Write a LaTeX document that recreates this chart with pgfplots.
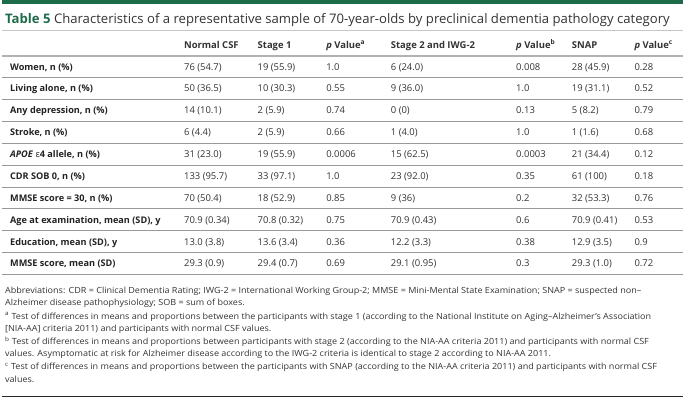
\documentclass[border=0pt]{standalone}
\usepackage{pgfplots}
\pgfplotsset{compat=1.18}
\usepackage{fontspec}
\setmainfont{Open Sans}
\usepackage{graphicx}
\definecolor{tgreen}{HTML}{1E6B4A}
\definecolor{txt}{HTML}{333333}
\definecolor{lab}{HTML}{222222}
\newcommand{\fnx}{1.07}
\tikzset{
  labn/.style={anchor=base west,inner sep=0pt,font=\fontsize{9.2bp}{10bp}\selectfont\bfseries,text=lab},
  valn/.style={anchor=base west,inner sep=0pt,font=\fontsize{9.5bp}{10bp}\selectfont,text=txt},
  fnn/.style={anchor=base west,inner sep=0pt,font=\fontsize{8.5bp}{9bp}\selectfont,text=txt}}
\newcommand{\trow}[9]{%
  \node[labn] at (axis cs:8,#1) {#2};
  \node[valn] at (axis cs:183,#1) {#3};
  \node[valn] at (axis cs:257,#1) {#4};
  \node[valn] at (axis cs:326,#1) {#5};
  \node[valn] at (axis cs:391,#1) {#6};
  \node[valn] at (axis cs:517,#1) {#7};
  \node[valn] at (axis cs:573,#1) {#8};
  \node[valn] at (axis cs:636,#1) {#9};
}
\newcommand{\fn}[2]{\node[fnn] at (axis cs:3,#1) {\scalebox{\fnx}[1]{#2}};}
\begin{document}
\begin{tikzpicture}
\begin{axis}[width=685bp,height=406bp,scale only axis,
  xmin=0,xmax=685,ymin=0,ymax=406,y dir=reverse,hide axis,clip=false]
\addplot[draw=none] coordinates {(0,0)(685,406)};
\addplot[tgreen,line width=4bp] coordinates {(0,2)(685,2)};
\addplot[color=gray!45,line width=0.8bp] coordinates {(0,31)(685,31)};
\addplot[color=gray!60,line width=2bp] coordinates {(0,56)(685,56)};
\pgfplotsinvokeforeach{78,100,122,144,166,188,210,232,254,276}{
  \addplot[color=gray!80,line width=0.8bp] coordinates {(0,#1)(685,#1)};
}
\addplot[color=black!85,line width=1.5bp] coordinates {(0,399)(685,399)};
\node[anchor=base west,inner sep=0pt,font=\fontsize{13.2bp}{14bp}\selectfont,text=txt] at (axis cs:3,23.5)
  {\textcolor{tgreen}{\bfseries Table 5}\ Characteristics of a representative sample of 70-year-olds by preclinical dementia pathology category};
\trow{48.5}{}{\bfseries Normal CSF}{\bfseries Stage 1}{\bfseries\textit{p} Value\textsuperscript{a}}{\bfseries Stage 2 and IWG-2}{\bfseries\textit{p} Value\textsuperscript{b}}{\bfseries SNAP}{\bfseries\textit{p} Value\textsuperscript{c}}
\trow{70.5}{Women, n (\%)}{76 (54.7)}{19 (55.9)}{1.0}{6 (24.0)}{0.008}{28 (45.9)}{0.28}
\trow{92.5}{Living alone, n (\%)}{50 (36.5)}{10 (30.3)}{0.55}{9 (36.0)}{1.0}{19 (31.1)}{0.52}
\trow{114.5}{Any depression, n (\%)}{14 (10.1)}{2 (5.9)}{0.74}{0 (0)}{0.13}{5 (8.2)}{0.79}
\trow{136.5}{Stroke, n (\%)}{6 (4.4)}{2 (5.9)}{0.66}{1 (4.0)}{1.0}{1 (1.6)}{0.68}
\trow{158.5}{\textit{APOE} \textmd{ε}4 allele, n (\%)}{31 (23.0)}{19 (55.9)}{0.0006}{15 (62.5)}{0.0003}{21 (34.4)}{0.12}
\trow{180.5}{CDR SOB 0, n (\%)}{133 (95.7)}{33 (97.1)}{1.0}{23 (92.0)}{0.35}{61 (100)}{0.18}
\trow{202.5}{MMSE score = 30, n (\%)}{70 (50.4)}{18 (52.9)}{0.85}{9 (36)}{0.2}{32 (53.3)}{0.76}
\trow{224.5}{Age at examination, mean (SD), y}{70.9 (0.34)}{70.8 (0.32)}{0.75}{70.9 (0.43)}{0.6}{70.9 (0.41)}{0.53}
\trow{246.5}{Education, mean (SD), y}{13.0 (3.8)}{13.6 (3.4)}{0.36}{12.2 (3.3)}{0.38}{12.9 (3.5)}{0.9}
\trow{268.5}{MMSE score, mean (SD)}{29.3 (0.9)}{29.4 (0.7)}{0.69}{29.1 (0.95)}{0.3}{29.3 (1.0)}{0.72}
\fn{295}{Abbreviations: CDR = Clinical Dementia Rating; IWG-2 = International Working Group-2; MMSE = Mini-Mental State Examination; SNAP = suspected non–}
\fn{307}{Alzheimer disease pathophysiology; SOB = sum of boxes.}
\fn{321}{\textsuperscript{a} Test of differences in means and proportions between the participants with stage 1 (according to the National Institute on Aging–Alzheimer’s Association}
\fn{333}{[NIA-AA] criteria 2011) and participants with normal CSF values.}
\fn{347}{\textsuperscript{b} Test of differences in means and proportions between participants with stage 2 (according to the NIA-AA criteria 2011) and participants with normal CSF}
\fn{359}{values. Asymptomatic at risk for Alzheimer disease according to the IWG-2 criteria is identical to stage 2 according to NIA-AA 2011.}
\fn{372}{\textsuperscript{c} Test of differences in means and proportions between the participants with SNAP (according to the NIA-AA criteria 2011) and participants with normal CSF}
\fn{385}{values.}
\end{axis}
\end{tikzpicture}
\end{document}
